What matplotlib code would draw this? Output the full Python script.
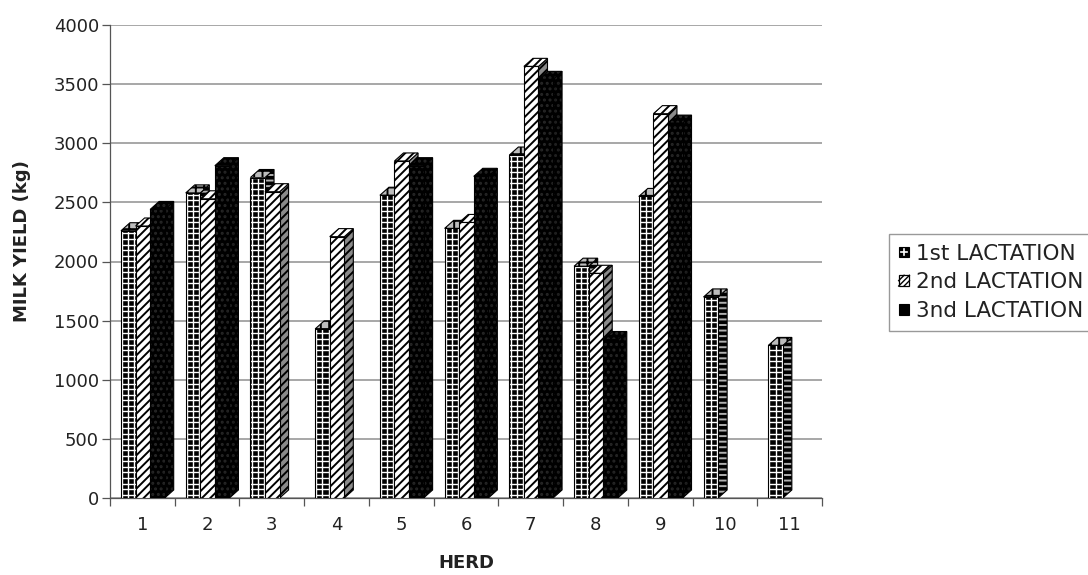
import numpy as np
import matplotlib
matplotlib.use("Agg")
import matplotlib.pyplot as plt
from matplotlib.patches import Polygon, Rectangle
from matplotlib.lines import Line2D
from matplotlib.collections import LineCollection
from matplotlib.legend_handler import HandlerBase

# Milk yield per herd (kg) for each lactation
herds = ["1", "2", "3", "4", "5", "6", "7", "8", "9", "10", "11"]
first_lact = [2260, 2580, 2710, 1430, 2560, 2280, 2900, 1960, 2550, 1700, 1290]
second_lact = [2300, 2530, 2590, 2210, 2850, 2330, 3650, 1900, 3250, np.nan, np.nan]
third_lact = [2440, 2810, np.nan, np.nan, 2810, 2720, 3540, 1340, 3170, np.nan, np.nan]
series_labels = ["1st LACTATION", "2nd LACTATION", "3nd LACTATION"]
y_ticks = [0, 500, 1000, 1500, 2000, 2500, 3000, 3500, 4000]

plt.rcParams["font.family"] = ["DejaVu Sans"]
plt.rcParams["hatch.linewidth"] = 1.4

W, H = 1088, 575
fig = plt.figure(figsize=(W / 100, H / 100), dpi=100)
ax = fig.add_axes([110 / W, 1 - 498 / H, (822 - 110) / W, (498 - 25) / H])

ax.set_xlim(0.5, 11.5)
ax.set_ylim(0, 4000)

styles = [
    dict(face="black", hcol="white", hatch=None,
         top_face="#bdbdbd", top_hcol="black", top_hatch="++",
         side_face="black", side_hcol="#b0b0b0", side_hatch="---"),
    dict(face="white", hcol="black", hatch="////",
         top_face="white", top_hcol="black", top_hatch="////",
         side_face="#8a8a8a", side_hcol="black", side_hatch="////"),
    dict(face="black", hcol="#262626", hatch="...",
         top_face="black", top_hcol="#262626", top_hatch="...",
         side_face="black", side_hcol="#202020", side_hatch="..."),
]

bar_w = 0.225
depth_x = 9 / 64.7      # depth offset in category units
depth_y = 68            # depth offset in kg units
grid_step = 47          # row pitch of the block pattern, kg units
x = np.arange(1, len(herds) + 1)
all_series = [first_lact, second_lact, third_lact]

z = 3
for s, vals in enumerate(all_series):
    vals = np.asarray(vals, dtype=float)
    ok = ~np.isnan(vals)
    lefts = x[ok] - 0.33 + s * bar_w
    heights = vals[ok]
    st = styles[s]
    for L, h in zip(lefts, heights):
        R = L + bar_w
        side = [(R, 0), (R + depth_x, depth_y), (R + depth_x, h + depth_y), (R, h)]
        top = [(L, h), (R, h), (R + depth_x, h + depth_y), (L + depth_x, h + depth_y)]
        ax.add_patch(Polygon(side, closed=True, facecolor=st["side_face"],
                             edgecolor=st["side_hcol"], hatch=st["side_hatch"],
                             lw=0, zorder=z))
        ax.add_patch(Polygon(side, closed=True, fill=False, edgecolor="black",
                             lw=0.8, zorder=z + 0.1))
        ax.add_patch(Polygon(top, closed=True, facecolor=st["top_face"],
                             edgecolor=st["top_hcol"], hatch=st["top_hatch"],
                             lw=0, zorder=z + 0.2))
        ax.add_patch(Polygon(top, closed=True, fill=False, edgecolor="black",
                             lw=0.8, zorder=z + 0.3))
    ax.bar(lefts, heights, width=bar_w, align="edge", facecolor=st["face"],
           edgecolor=st["hcol"], hatch=st["hatch"], lw=0, zorder=z + 0.4)
    if s == 0:
        # white block grid on the black front faces
        segs = []
        for L, h in zip(lefts, heights):
            for f in (0.08, 0.5, 0.92):
                segs.append([(L + bar_w * f, 0), (L + bar_w * f, h)])
            for yy in np.arange(grid_step * 0.6, h, grid_step):
                segs.append([(L, yy), (L + bar_w, yy)])
        ax.add_collection(LineCollection(segs, colors="white", linewidths=1.0,
                                         zorder=z + 0.45))
    ax.bar(lefts, heights, width=bar_w, align="edge", fill=False,
           edgecolor="black", lw=0.8, zorder=z + 0.5)
    z += 1

# axes, grid, ticks
ax.set_yticks(y_ticks)
ax.set_yticklabels([str(v) for v in y_ticks])
ax.grid(axis="y", color="#a0a0a0", lw=1.3, zorder=0)
ax.set_axisbelow(True)
ax.set_xticks(np.arange(0.5, len(herds) + 1, 1.0))
ax.set_xticklabels([])
ax.set_xticks(x, minor=True)
ax.set_xticklabels(herds, minor=True)
ax.tick_params(axis="x", which="major", length=6, color="#555555", width=0.9)
ax.tick_params(axis="x", which="minor", length=0, pad=13, labelsize=13, labelcolor="#222222")
ax.tick_params(axis="y", length=6, color="#555555", width=0.9, pad=2,
               labelsize=13, labelcolor="#222222")
for side in ["top", "right"]:
    ax.spines[side].set_visible(False)
for side in ["left", "bottom"]:
    ax.spines[side].set_color("#555555")
    ax.spines[side].set_linewidth(0.9)

fig.text(466 / W, 1 - 563 / H, "HERD", ha="center", va="center",
         fontsize=13, fontweight="bold", color="#222222")
fig.text(22 / W, 1 - 241 / H, "MILK YIELD (kg)", ha="center", va="center",
         rotation=90, fontsize=13, fontweight="bold", color="#222222")


# legend swatches: small squares in each series' fill pattern
class SwatchHandler(HandlerBase):
    def __init__(self, kind):
        super().__init__()
        self.kind = kind

    def create_artists(self, legend, orig_handle, xdescent, ydescent,
                       width, height, fontsize, trans):
        sz = min(width, height)
        x0 = -xdescent
        y0 = -ydescent + (height - sz) / 2
        arts = []
        if self.kind == 0:
            arts.append(Rectangle((x0, y0), sz, sz, facecolor="black",
                                  edgecolor="black", lw=0.8, transform=trans))
            arts.append(Line2D([x0 + sz / 2, x0 + sz / 2], [y0 + sz * 0.2, y0 + sz * 0.8],
                               color="white", lw=1.2, transform=trans))
            arts.append(Line2D([x0 + sz * 0.2, x0 + sz * 0.8], [y0 + sz / 2, y0 + sz / 2],
                               color="white", lw=1.2, transform=trans))
        elif self.kind == 1:
            arts.append(Rectangle((x0, y0), sz, sz, facecolor="white",
                                  edgecolor="black", lw=0.9, transform=trans))
            arts.append(Line2D([x0, x0 + sz * 0.5], [y0 + sz * 0.5, y0 + sz],
                               color="black", lw=1.0, transform=trans))
            arts.append(Line2D([x0, x0 + sz], [y0, y0 + sz], color="black",
                               lw=1.0, transform=trans))
            arts.append(Line2D([x0 + sz * 0.5, x0 + sz], [y0, y0 + sz * 0.5],
                               color="black", lw=1.0, transform=trans))
        else:
            arts.append(Rectangle((x0, y0), sz, sz, facecolor="black",
                                  edgecolor="black", lw=0.8, transform=trans))
        return arts


proxies = [Rectangle((0, 0), 1, 1) for _ in series_labels]
leg = fig.legend(proxies, series_labels, loc="upper left",
                 bbox_to_anchor=(889 / W, 1 - 234 / H), borderaxespad=0,
                 fontsize=15.5, handlelength=0.5, handleheight=0.5,
                 handletextpad=0.3, labelspacing=0.4, borderpad=0.45,
                 fancybox=False, frameon=True,
                 handler_map={proxies[i]: SwatchHandler(i) for i in range(3)})
leg.get_frame().set_edgecolor("#808080")
leg.get_frame().set_linewidth(1.0)
for t in leg.get_texts():
    t.set_color("#222222")

fig.savefig("out.png", dpi=100)
